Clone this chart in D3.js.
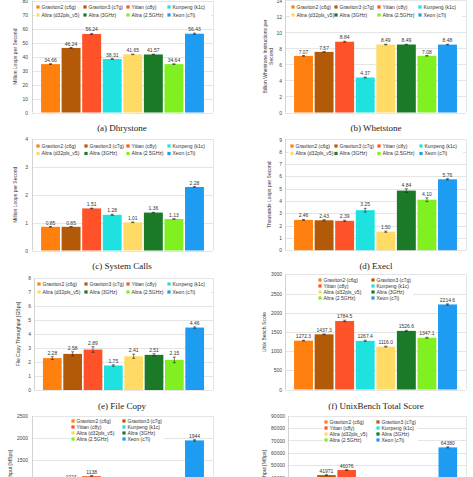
<!DOCTYPE html>
<html><head><meta charset="utf-8">
<script src="https://cdn.jsdelivr.net/npm/d3@7"></script>
<style>body{margin:0;background:#fff}svg{display:block}</style>
</head><body>
<script>
// ---- data ----
const categories = ["Graviton2 (c6g)","Graviton3 (c7g)","Yitian (c8y)","Kunpeng (k1c)","Altra (d32pls_v5)","Altra (3GHz)","Altra (2.5GHz)","Xeon (c7i)"];
const colors = ["#ff800e","#b35a09","#ff5228","#1de2e0","#ffdb66","#1b7a27","#80f020","#1e9cf2"];

const dhrystone    = [34.66,46.24,56.24,38.31,41.65,41.57,34.64,56.43];
const dhrystoneErr = [0.3,0.3,0.4,0.3,0.2,0.2,0.2,0.4];
const whetstone    = [7.07,7.57,8.84,4.37,8.49,8.49,7.08,8.48];
const whetstoneErr = [0.03,0.03,0.06,0.06,0.04,0.03,0.03,0.04];
const syscalls     = [0.85,0.85,1.51,1.28,1.01,1.36,1.13,2.28];
const syscallsErr  = [0.01,0.01,0.01,0.02,0.01,0.01,0.01,0.01];
const execl        = [2.46,2.43,2.39,3.25,1.50,4.84,4.10,5.76];
const execlErr     = [0.04,0.05,0.05,0.15,0.05,0.15,0.15,0.05];
const filecopy     = [2.28,2.58,2.89,1.75,2.41,2.51,2.15,4.46];
const filecopyErr  = [0.1,0.15,0.2,0.05,0.15,0.08,0.2,0.05];
const unixbench    = [1272.3,1437.3,1784.5,1267.4,1116.0,1526.6,1347.1,2214.6];
const unixbenchErr = [10,10,20,15,10,15,12,15];
const panelG       = [905,1024,1138,812,736,968,874,1944];
const panelGErr    = [10,10,15,10,10,10,10,15];
const panelH       = [31250,41971,46076,27840,24390,33120,29580,64380];
const panelHErr    = [300,300,400,300,300,300,300,400];

const captions = ["(a) Dhrystone","(b) Whetstone","(c) System Calls","(d) Execl","(e) File Copy","(f) UnixBench Total Score","",""];
const yTitles = [["Million Loops per Second"],["Billion Whetstone Instructions per","Second"],["Million Loops per Second"],["Thousands Loops per Second"],["File Copy Throughput [GBps]"],["Unix Bench Score"],["Throughput [MBps]"],["Throughput [MBps]"]];

// ---- layout ----
const panels = [
 {vals:dhrystone,err:dhrystoneErr,dec:2,max:80,step:10,L:32,R:213,T:0.8,Z:112.5,cap:[122,131],yt:[15],tickGap:4,
  leg:{cols:[38,85,128,169],rows:[7,15],n:4}},
 {vals:whetstone,err:whetstoneErr,dec:2,max:14,step:2,L:285,R:466,T:0.4,Z:112.5,cap:[376,131],yt:[265,271],tickGap:3,
  leg:{cols:[293,336,379,420],rows:[7,15],n:4}},
 {vals:syscalls,err:syscallsErr,dec:2,max:4,step:1,L:32,R:213,T:139,Z:250.5,cap:[122,269],yt:[15],tickGap:4,
  leg:{cols:[38,86,128,169],rows:[146,153.5],n:4}},
 {vals:execl,err:execlErr,dec:2,max:9,step:1,L:285,R:466,T:139.4,Z:250.2,cap:[376,269],yt:[269],tickGap:3,
  leg:{cols:[292,336,379,421],rows:[146,153.5],n:4}},
 {vals:filecopy,err:filecopyErr,dec:2,max:8,step:1,L:34,R:213,T:278,Z:390,cap:[122,409],yt:[18],tickGap:3,
  leg:{cols:[39,86,128,169],rows:[284,292],n:4}},
 {vals:unixbench,err:unixbenchErr,dec:1,max:3000,step:500,L:285,R:466,T:274.3,Z:389.5,cap:[376,408.5],yt:[264],tickGap:3,
  leg:{cols:[320,373],rows:[280,286,292,298],n:2}},
 {vals:panelG,err:panelGErr,dec:0,max:2500,step:500,L:32,R:213,T:415.7,Z:526.7,cap:null,yt:[10],tickGap:4,
  leg:{cols:[73,124],rows:[421,427,433,439],n:2}},
 {vals:panelH,err:panelHErr,dec:0,max:90000,step:10000,L:288,R:466,T:415.7,Z:527,cap:null,yt:[264],tickGap:3,
  leg:{cols:[326,378],rows:[422,428,434,440],n:2}}
];

const W=473,H=477;
const svg=d3.select("body").append("svg").attr("width",W).attr("height",H)
  .style("font-family","'Liberation Sans',Arial,sans-serif");

panels.forEach((p,i)=>{
  const g=svg.append("g");
  const y=d3.scaleLinear().domain([0,p.max]).range([p.Z,p.T]);
  const x=d3.scaleBand().domain(categories).range([p.L,p.R]).paddingInner(0.08).paddingOuter(0.44);
  const ticks=d3.range(0,p.max+p.step/2,p.step);
  // grid
  g.selectAll("line.grid").data(ticks).join("line")
    .attr("x1",p.L).attr("x2",p.R).attr("y1",d=>Math.round(y(d))+0.5).attr("y2",d=>Math.round(y(d))+0.5)
    .attr("stroke","#dedede").attr("stroke-width",0.8);
  g.append("line").attr("x1",p.R+0.5).attr("x2",p.R+0.5).attr("y1",p.T).attr("y2",p.Z).attr("stroke","#dedede").attr("stroke-width",0.8);
  g.append("line").attr("x1",p.L+0.5).attr("x2",p.L+0.5).attr("y1",p.T).attr("y2",p.Z).attr("stroke","#c8c8c8").attr("stroke-width",0.8);
  // axis labels
  const ax=d3.axisLeft(y).tickValues(ticks).tickSize(0).tickPadding(p.tickGap).tickFormat(d3.format("d"));
  const axg=g.append("g").attr("transform",`translate(${p.L},0)`).call(ax);
  axg.select(".domain").remove();
  axg.selectAll("text").attr("font-size",5).attr("fill","#444").attr("font-family","'Liberation Sans',Arial,sans-serif");
  // bars
  g.selectAll("rect.bar").data(p.vals).join("rect")
    .attr("x",(d,j)=>x(categories[j])).attr("width",x.bandwidth())
    .attr("y",d=>y(d)).attr("height",d=>p.Z-y(d))
    .attr("fill",(d,j)=>colors[j]);
  // error bars
  p.vals.forEach((v,j)=>{
    const cx=x(categories[j])+x.bandwidth()/2, e=p.err[j];
    g.append("line").attr("x1",cx).attr("x2",cx).attr("y1",y(v-e)).attr("y2",y(v+e)).attr("stroke","#222").attr("stroke-width",0.6);
    [v-e,v+e].forEach(w=>g.append("line").attr("x1",cx-1.5).attr("x2",cx+1.5).attr("y1",y(w)).attr("y2",y(w)).attr("stroke","#222").attr("stroke-width",0.6));
  });
  // value labels
  g.selectAll("text.val").data(p.vals).join("text")
    .attr("x",(d,j)=>x(categories[j])+x.bandwidth()/2)
    .attr("y",(d,j)=>y(d+p.err[j])-2)
    .attr("text-anchor","middle").attr("font-size",5).attr("fill","#333")
    .text(d=>d.toFixed(p.dec));
  // legend
  const lg=p.leg, nr=lg.rows.length;
  const lastCol=lg.cols[lg.cols.length-1];
  g.append("rect").attr("x",lg.cols[0]-3).attr("y",lg.rows[0]-4)
    .attr("width",lastCol+ (lg.n===4?42:40) -(lg.cols[0]-3)).attr("height",lg.rows[nr-1]-lg.rows[0]+8).attr("fill","#fff");
  categories.forEach((c,j)=>{
    const col=j%lg.n, row=Math.floor(j/lg.n);
    const mx=lg.cols[col], my=lg.rows[row];
    g.append("rect").attr("x",mx-1.6).attr("y",my-1.6).attr("width",3.2).attr("height",3.2).attr("fill",colors[j]);
    g.append("text").attr("x",mx+3.5).attr("y",my).attr("dy","0.35em").attr("font-size",5).attr("fill","#333").text(c);
  });
  // y title
  const cy=(p.T+p.Z)/2;
  yTitles[i].forEach((t,k)=>{
    g.append("text").attr("transform",`translate(${p.yt[k]},${cy}) rotate(-90)`)
      .attr("text-anchor","middle").attr("dy","0.35em").attr("font-size",5).attr("fill","#333").text(t);
  });
  // caption
  if(p.cap){
    svg.append("text").attr("x",p.cap[0]).attr("y",p.cap[1]).attr("text-anchor","middle")
      .attr("font-family","'Liberation Serif','Times New Roman',serif").attr("font-size",9).attr("fill","#222")
      .text(captions[i]);
  }
});
</script>
</body></html>
